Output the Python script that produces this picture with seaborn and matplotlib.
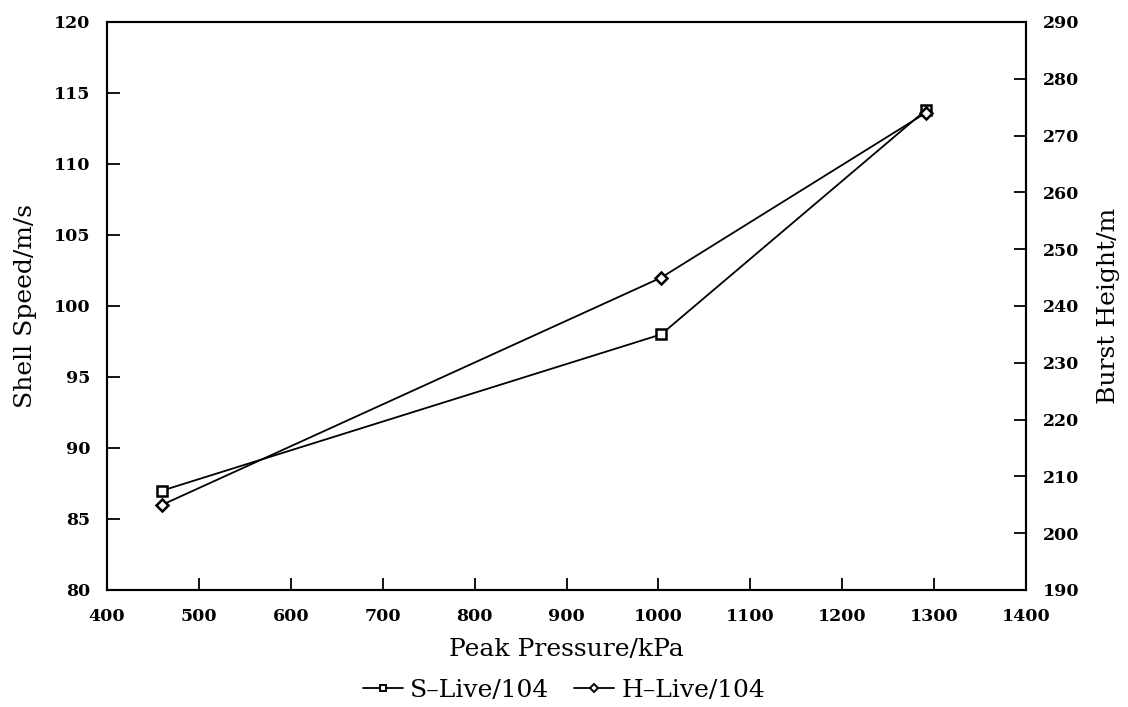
import matplotlib
matplotlib.use("Agg")
import matplotlib.pyplot as plt
import seaborn as sns
import pandas as pd
from matplotlib.lines import Line2D

sns.set_theme(style="white")
plt.rcParams['font.family'] = ['DejaVu Serif']
plt.rcParams['text.color'] = 'black'

pressure = [460, 1003, 1291]
shell_speed = [87.0, 98.0, 113.8]      # S-Live/104 (left axis)
burst_height = [205.0, 245.0, 274.0]   # H-Live/104 (right axis)
s_label = "S\u2013Live/104"
h_label = "H\u2013Live/104"

df_s = pd.DataFrame({"x": pressure, "y": shell_speed})
df_h = pd.DataFrame({"x": pressure, "y": burst_height})

fig = plt.figure(figsize=(11.28, 7.07), dpi=100)
ax = fig.add_axes([0.0949, 0.1655, 0.8147, 0.8034])
ax2 = ax.twinx()

sns.lineplot(data=df_s, x="x", y="y", ax=ax, color="black", linewidth=1.3,
             marker="s", markersize=6.5, markerfacecolor="white",
             markeredgecolor="black", markeredgewidth=1.8)
sns.lineplot(data=df_h, x="x", y="y", ax=ax2, color="black", linewidth=1.3,
             marker="D", markersize=6, markerfacecolor="white",
             markeredgecolor="black", markeredgewidth=1.8)

ax.set_xlim(400, 1400)
ax.set_ylim(80, 120)
ax2.set_ylim(190, 290)
ax.set_xticks(range(400, 1401, 100))
ax.set_yticks(range(80, 121, 5))
ax2.set_yticks(range(190, 291, 10))

for a in (ax, ax2):
    for s in a.spines.values():
        s.set_color("black")
        s.set_linewidth(1.5)
    a.grid(False)

ax.tick_params(axis="x", direction="in", length=9, width=1.3, bottom=True, top=False, pad=13, colors="black")
ax.tick_params(axis="y", direction="in", length=9, width=1.3, left=True, right=False, pad=12, colors="black")
ax2.tick_params(axis="y", direction="in", length=9, width=1.3, right=True, left=False, pad=12, colors="black")
for lbl in ax.get_xticklabels() + ax.get_yticklabels() + ax2.get_yticklabels():
    lbl.set_fontsize(12.5)
    lbl.set_fontweight("bold")

ax.set_xlabel("Peak Pressure/kPa", fontsize=18, labelpad=9, color="black")
ax.set_ylabel("Shell Speed/m/s", fontsize=18, labelpad=12, color="black")
ax2.set_ylabel("Burst Height/m", fontsize=18, labelpad=13, color="black")

handles = [
    Line2D([], [], color="black", linewidth=1.3, marker="s", markersize=5,
           markerfacecolor="white", markeredgecolor="black", markeredgewidth=1.4),
    Line2D([], [], color="black", linewidth=1.3, marker="D", markersize=4.5,
           markerfacecolor="white", markeredgecolor="black", markeredgewidth=1.4),
]
leg = fig.legend(handles, [s_label, h_label], loc="center", bbox_to_anchor=(0.5, 0.024),
                 ncol=2, frameon=False, fontsize=18, handlelength=1.6,
                 handletextpad=0.3, columnspacing=1.0)
for t in leg.get_texts():
    t.set_color("black")

fig.savefig("out.png", dpi=100)
